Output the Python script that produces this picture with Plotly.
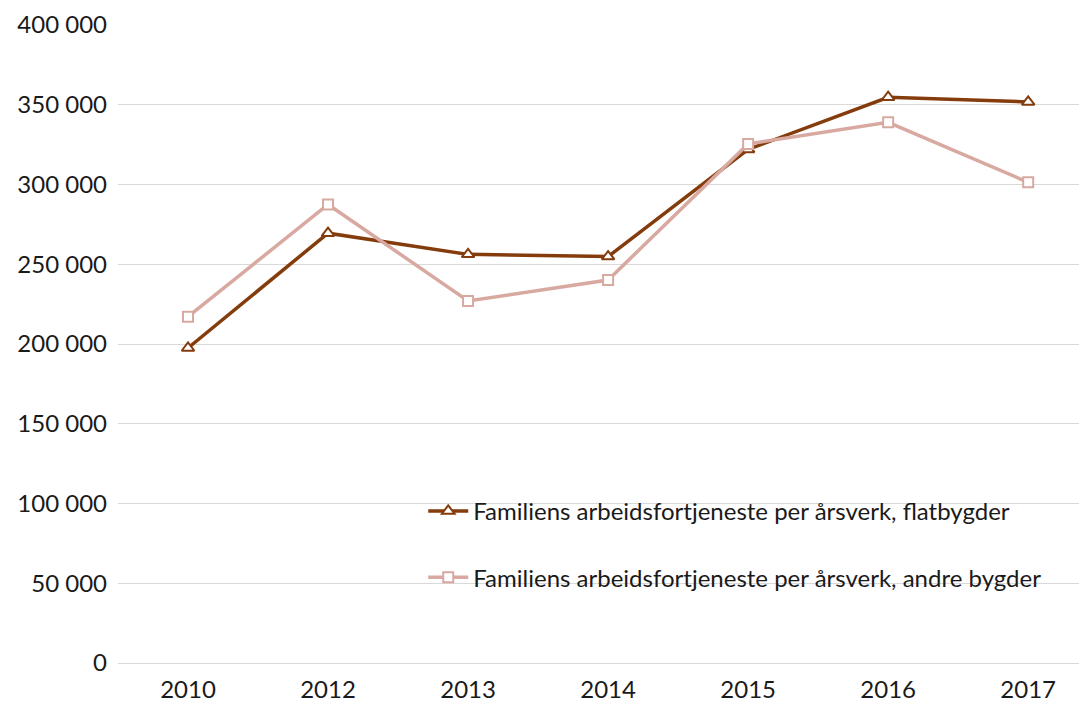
import plotly.graph_objects as go

years = ["2010", "2012", "2013", "2014", "2015", "2016", "2017"]
flatbygder = [197500, 269500, 256200, 254800, 322000, 354700, 351800]
andre_bygder = [217100, 287500, 227000, 240100, 325400, 339000, 301400]
name_flat = "Familiens arbeidsfortjeneste per årsverk, flatbygder"
name_andre = "Familiens arbeidsfortjeneste per årsverk, andre bygder"
y_ticks = [0, 50000, 100000, 150000, 200000, 250000, 300000, 350000, 400000]

FONT = "Lato, 'Open Sans', sans-serif"

fig = go.Figure()
fig.add_trace(go.Scatter(
    x=years, y=flatbygder, name=name_flat, mode="lines+markers",
    line=dict(color="#843C0C", width=3.5),
    marker=dict(symbol="triangle-up", size=11, color="white",
                line=dict(color="#843C0C", width=2)),
    legendgroup="a",
))
fig.add_trace(go.Scatter(
    x=years, y=andre_bygder, name=name_andre, mode="lines+markers",
    line=dict(color="#D8A9A0", width=3.5),
    marker=dict(symbol="square", size=10, color="white",
                line=dict(color="#D8A9A0", width=2)),
    legendgroup="b",
))

fig.update_layout(
    width=1079, height=699,
    margin=dict(l=110, r=0, t=17, b=44),
    paper_bgcolor="white", plot_bgcolor="white",
    font=dict(family=FONT, size=24, color="#1a1a1a"),
    separators=", ",
    showlegend=True,
    legend=dict(x=0.315, y=0.273, xanchor="left", yanchor="top",
                bgcolor="rgba(0,0,0,0)", font=dict(size=24),
                tracegroupgap=32, itemwidth=40),
    xaxis=dict(type="category", range=[-0.5, 6.42], showgrid=False,
               showline=False, ticks="", ticklabelstandoff=10),
    yaxis=dict(range=[0, 400000], tickvals=y_ticks, tickformat=",d",
               showgrid=True, gridcolor="#D9D9D9", gridwidth=1,
               zeroline=True, zerolinecolor="#D9D9D9", zerolinewidth=1,
               showline=False, ticks="", ticklabelstandoff=10),
)

fig.write_html("out.html")
